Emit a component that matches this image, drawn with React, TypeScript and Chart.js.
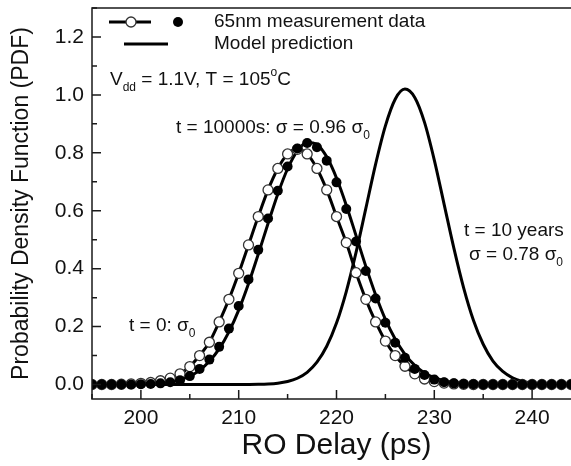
import React, { useEffect, useRef } from 'react';
import { Chart, registerables } from 'chart.js';

Chart.register(...registerables);

// RO delay (ps)
const delays = [
  195, 196, 197, 198, 199, 200, 201, 202, 203, 204, 205, 206, 207, 208, 209, 210, 211,
  212, 213, 214, 215, 216, 217, 218, 219, 220, 221, 222, 223, 224, 225, 226, 227, 228,
  229, 230, 231, 232, 233, 234, 235, 236, 237, 238, 239, 240, 241, 242, 243, 244, 245,
];

// 65nm measurement, t = 0 (open circles)
const measuredT0 = [
  0, 0, 0, 0.001, 0.002, 0.004, 0.007, 0.013, 0.022, 0.037, 0.062, 0.1, 0.146, 0.216, 0.294,
  0.384, 0.482, 0.58, 0.672, 0.746, 0.796, 0.812, 0.796, 0.746, 0.672, 0.58, 0.49, 0.386,
  0.294, 0.216, 0.15, 0.1, 0.063, 0.037, 0.019, 0.01, 0.005, 0.002, 0.001,
  0, 0, 0, 0, 0, 0, 0, 0, 0, 0, 0, 0,
];

// 65nm measurement, t = 10000 s (filled circles)
const measuredT10000 = [
  0, 0, 0, 0, 0, 0.001, 0.002, 0.004, 0.008, 0.015, 0.029, 0.054, 0.086, 0.13, 0.193, 0.271,
  0.363, 0.465, 0.573, 0.669, 0.753, 0.815, 0.834, 0.819, 0.773, 0.698, 0.606, 0.494, 0.392,
  0.297, 0.213, 0.144, 0.092, 0.054, 0.033, 0.017, 0.008, 0.004, 0.002, 0.001,
  0, 0, 0, 0, 0, 0, 0, 0, 0, 0, 0,
];

// Model prediction, t = 10000 s
const modelT10000 = [
  0, 0, 0.0001, 0.0002, 0.0005, 0.0011, 0.0023, 0.0047, 0.009, 0.0166, 0.029, 0.049, 0.08,
  0.123, 0.182, 0.257, 0.348, 0.45, 0.556, 0.658, 0.745, 0.807, 0.836, 0.829, 0.786, 0.713,
  0.619, 0.514, 0.408, 0.31, 0.225, 0.157, 0.104, 0.066, 0.04, 0.0235, 0.013, 0.007, 0.0036,
  0.0017, 0.0008, 0.0003, 0.0001, 0, 0, 0, 0, 0, 0, 0, 0,
];

// Model prediction, t = 10 years
const model10Years = [
  0, 0, 0, 0, 0, 0, 0, 0, 0, 0, 0, 0, 0, 0, 0, 0.0001, 0.0003, 0.0008, 0.002, 0.0047, 0.0104,
  0.0216, 0.042, 0.077, 0.132, 0.212, 0.321, 0.456, 0.608, 0.761, 0.893, 0.985, 1.02, 0.991,
  0.905, 0.775, 0.623, 0.471, 0.334, 0.222, 0.139, 0.081, 0.045, 0.023, 0.011, 0.005, 0.002,
  0.0009, 0.0003, 0.0001, 0,
];

const xMajorTicks = [200, 210, 220, 230, 240];
const yMajorTicks = [0, 0.2, 0.4, 0.6, 0.8, 1.0, 1.2];

const FONT = "'Liberation Sans', Arial, Helvetica, sans-serif";
const INK = '#111';

type Seg = { t: string; sub?: boolean; sup?: boolean };

function drawRich(ctx: CanvasRenderingContext2D, segs: Seg[], x: number, y: number, size: number) {
  let cx = x;
  ctx.textBaseline = 'middle';
  ctx.textAlign = 'left';
  ctx.fillStyle = INK;
  for (const s of segs) {
    const small = s.sub || s.sup;
    const fs = small ? Math.round(size * 0.62) : size;
    ctx.font = `${fs}px ${FONT}`;
    const dy = s.sub ? size * 0.38 : s.sup ? -size * 0.36 : 0;
    ctx.fillText(s.t, cx, y + dy);
    cx += ctx.measureText(s.t).width;
  }
}

const zip = (ys: number[]) => delays.map((x, i) => ({ x, y: ys[i] }));

const framePlugin = {
  id: 'frameAndNotes',
  afterDraw(chart: any) {
    const ctx: CanvasRenderingContext2D = chart.ctx;
    const { left, top, right, bottom } = chart.chartArea;
    const xs = chart.scales.x;
    const ys = chart.scales.y;
    ctx.save();
    // frame
    ctx.strokeStyle = '#1a1a1a';
    ctx.lineWidth = 1.5;
    ctx.strokeRect(left, top, right - left, bottom - top);
    // inward ticks (major + minor)
    ctx.beginPath();
    for (let v = 195; v <= 245; v += 5) {
      const px = xs.getPixelForValue(v);
      const len = v % 10 === 0 ? 9 : 5;
      ctx.moveTo(px, bottom);
      ctx.lineTo(px, bottom - len);
    }
    for (let i = 0; i <= 13; i++) {
      const py = ys.getPixelForValue(i / 10);
      const len = i % 2 === 0 ? 9 : 5;
      ctx.moveTo(left, py);
      ctx.lineTo(left + len, py);
    }
    ctx.stroke();

    // legend
    ctx.strokeStyle = '#000';
    ctx.lineWidth = 3;
    ctx.beginPath();
    ctx.moveTo(left + 17, top + 14);
    ctx.lineTo(left + 59, top + 14);
    ctx.moveTo(left + 32, top + 36);
    ctx.lineTo(left + 76, top + 36);
    ctx.stroke();
    ctx.beginPath();
    ctx.arc(left + 39, top + 14, 5, 0, Math.PI * 2);
    ctx.fillStyle = '#fff';
    ctx.fill();
    ctx.lineWidth = 1.3;
    ctx.strokeStyle = '#333';
    ctx.stroke();
    ctx.beginPath();
    ctx.arc(left + 86, top + 14, 5, 0, Math.PI * 2);
    ctx.fillStyle = '#000';
    ctx.fill();
    drawRich(ctx, [{ t: '65nm measurement data' }], left + 122, top + 14, 19);
    drawRich(ctx, [{ t: 'Model prediction' }], left + 122, top + 36, 19);

    // annotations
    drawRich(ctx, [{ t: 'V' }, { t: 'dd', sub: true }, { t: ' = 1.1V, T = 105' }, { t: 'o', sup: true }, { t: 'C' }], left + 18, top + 72, 19);
    drawRich(ctx, [{ t: 't = 10000s: \u03c3 = 0.96 \u03c3' }, { t: '0', sub: true }], 176, 128, 19);
    drawRich(ctx, [{ t: 't = 0: \u03c3' }, { t: '0', sub: true }], 129, 326, 19);
    drawRich(ctx, [{ t: 't = 10 years' }], 464, 231, 19);
    drawRich(ctx, [{ t: '\u03c3 = 0.78 \u03c3' }, { t: '0', sub: true }], 469, 255, 19);
    ctx.restore();
  },
};

export default function App() {
  const canvasRef = useRef<HTMLCanvasElement | null>(null);

  useEffect(() => {
    const canvas = canvasRef.current;
    if (!canvas) return;
    const chart = new Chart(canvas, {
      type: 'line',
      data: {
        datasets: [
          {
            label: '65nm measurement data (t = 10000s)',
            data: zip(measuredT10000),
            showLine: false,
            pointRadius: 5,
            pointBackgroundColor: '#000',
            pointBorderWidth: 0,
            borderColor: '#000',
          },
          {
            label: '65nm measurement data (t = 0)',
            data: zip(measuredT0),
            borderColor: '#000',
            borderWidth: 3,
            cubicInterpolationMode: 'monotone',
            pointRadius: 5,
            pointBackgroundColor: '#fff',
            pointBorderColor: '#333',
            pointBorderWidth: 1.3,
          },
          {
            label: 'Model prediction (t = 10000s)',
            data: zip(modelT10000),
            borderColor: '#000',
            borderWidth: 3,
            cubicInterpolationMode: 'monotone',
            pointRadius: 0,
          },
          {
            label: 'Model prediction (t = 10 years)',
            data: zip(model10Years),
            borderColor: '#000',
            borderWidth: 3,
            cubicInterpolationMode: 'monotone',
            pointRadius: 0,
          },
        ],
      } as any,
      options: {
        animation: false,
        responsive: false,
        events: [],
        layout: { padding: { left: 0, right: 9, top: 8, bottom: 0 } },
        plugins: { legend: { display: false }, tooltip: { enabled: false } },
        scales: {
          x: {
            type: 'linear',
            min: 195,
            max: 245,
            grid: { display: false, drawTicks: false },
            border: { display: false },
            afterBuildTicks: (s: any) => {
              s.ticks = xMajorTicks.map((v) => ({ value: v }));
            },
            ticks: {
              autoSkip: false,
              maxRotation: 0,
              padding: 7,
              color: INK,
              font: { family: FONT, size: 21 },
              callback: (v: any) => String(v),
            },
            title: {
              display: true,
              text: 'RO Delay (ps)',
              color: INK,
              font: { family: FONT, size: 30 },
              padding: { top: 0, bottom: 2 },
            },
            afterFit: (s: any) => {
              s.height = 67;
              s.paddingLeft = 0;
              s.paddingRight = 0;
            },
          },
          y: {
            type: 'linear',
            min: -0.05,
            max: 1.3,
            grid: { display: false, drawTicks: false },
            border: { display: false },
            afterBuildTicks: (s: any) => {
              s.ticks = yMajorTicks.map((v) => ({ value: v }));
            },
            ticks: {
              autoSkip: false,
              padding: 8,
              color: INK,
              font: { family: FONT, size: 21 },
              callback: (v: any) => Number(v).toFixed(1),
            },
            title: {
              display: true,
              text: 'Probability Density Function (PDF)',
              color: INK,
              font: { family: FONT, size: 23 },
              padding: { top: 8, bottom: 0 },
            },
            afterFit: (s: any) => {
              s.width = 92;
              s.paddingTop = 0;
              s.paddingBottom = 0;
            },
          },
        },
      } as any,
      plugins: [framePlugin],
    });
    return () => chart.destroy();
  }, []);

  return (
    <div
      style={{
        position: 'fixed',
        left: 0,
        top: 0,
        width: 571,
        height: 466,
        overflow: 'hidden',
        background: '#fff',
      }}
    >
      <canvas ref={canvasRef} width={590} height={466} style={{ display: 'block' }} />
    </div>
  );
}
